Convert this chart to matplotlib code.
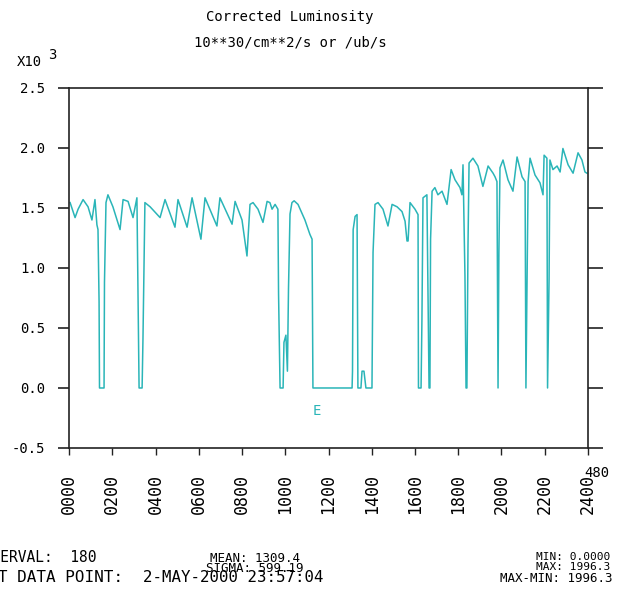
import matplotlib
matplotlib.use("Agg")
import numpy as np
import matplotlib.pyplot as plt

# time of day in hours, corrected luminosity in 10**30/cm**2/s
hours = [0.05, 0.28, 0.42, 0.65, 0.88, 1.06, 1.20, 1.29, 1.34, 1.39, 1.41, 1.62, 1.64, 1.71,
         1.80, 2.03, 2.36, 2.50, 2.73, 2.96, 3.14, 3.19, 3.24, 3.38, 3.42, 3.51,
         3.75, 4.21, 4.44, 4.90, 5.04, 5.46, 5.69, 6.10, 6.29, 6.84, 6.98, 7.54, 7.68,
         8.00, 8.23, 8.37, 8.51, 8.74, 8.97, 9.16, 9.29, 9.39, 9.53, 9.66, 9.69, 9.76,
         9.90, 9.94, 10.03, 10.10, 10.15, 10.22, 10.31, 10.41, 10.59, 10.91, 11.14, 11.24,
         11.26, 11.28, 13.09, 13.11, 13.14, 13.23, 13.32, 13.34, 13.36, 13.50, 13.55, 13.64,
         13.73, 14.01, 14.06, 14.15, 14.29, 14.52, 14.75, 14.94, 15.17, 15.40, 15.54, 15.63,
         15.68, 15.77, 16.00, 16.14, 16.16, 16.28, 16.32, 16.37, 16.55, 16.60, 16.65, 16.69,
         16.72, 16.79, 16.92, 17.06, 17.25, 17.48, 17.67, 17.85, 18.08, 18.17, 18.22, 18.31,
         18.36, 18.40, 18.45, 18.50, 18.68, 18.91, 19.14, 19.38, 19.61, 19.70, 19.79, 19.84,
         19.88, 19.93, 20.07, 20.30, 20.53, 20.72, 20.95, 21.09, 21.13, 21.18, 21.23, 21.32,
         21.55, 21.78, 21.92, 21.97, 22.10, 22.13, 22.20, 22.24, 22.38, 22.57, 22.71, 22.84,
         23.08, 23.31, 23.54, 23.72, 23.86, 23.95]
lumi = [1545, 1420, 1490, 1570, 1510, 1400, 1570, 1360, 1320, 720, 0, 0, 880, 1545,
        1610, 1510, 1320, 1570, 1555, 1420, 1585, 800, 0, 0, 410, 1545,
        1510, 1420, 1570, 1340, 1570, 1340, 1585, 1240, 1585, 1350, 1585, 1365, 1555,
        1400, 1100, 1530, 1545, 1490, 1380, 1555, 1545, 1490, 1530, 1490, 785, 0,
        0, 380, 440, 140, 830, 1450, 1545, 1560, 1530, 1400, 1280, 1240,
        600, 0, 0, 140, 1320, 1430, 1445, 720, 0, 0, 140, 140,
        0, 0, 1130, 1530, 1545, 1490, 1350, 1530, 1510, 1470, 1390, 1225,
        1225, 1545, 1490, 1445, 0, 0, 560, 1585, 1610, 800, 0, 0,
        1240, 1640, 1670, 1610, 1640, 1530, 1820, 1735, 1670, 1610, 1860, 935,
        0, 0, 1180, 1875, 1915, 1850, 1680, 1850, 1790, 1760, 1720, 0,
        1130, 1835, 1900, 1735, 1640, 1925, 1760, 1720, 0, 850, 1720, 1915,
        1775, 1710, 1610, 1940, 1915, 0, 910, 1900, 1820, 1850, 1800, 1996,
        1860, 1790, 1960, 1900, 1800, 1790]

y_ticks = [-0.5, 0.0, 0.5, 1.0, 1.5, 2.0, 2.5]
y_labels = ["-0.5", "0.0", "0.5", "1.0", "1.5", "2.0", "2.5"]
x_ticks = [0, 2, 4, 6, 8, 10, 12, 14, 16, 18, 20, 22, 24]
x_labels = ["0000", "0200", "0400", "0600", "0800", "1000", "1200",
            "1400", "1600", "1800", "2000", "2200", "2400"]

mono = "DejaVu Sans Mono"
line_col = "#2ab5b8"
frame_col = "#222222"

fig = plt.figure(figsize=(6.24, 5.91), dpi=100)
ax = fig.add_axes([0.1106, 0.2420, 0.8317, 0.6091])
ax.plot(hours, np.array(lumi) / 1000.0, color=line_col, lw=1.1)
ax.set_xlim(0, 24)
ax.set_ylim(-0.5, 2.5)
ax.set_yticks(y_ticks)
ax.set_yticklabels(y_labels, fontfamily=mono, fontsize=10)
ax.set_xticks(x_ticks)
ax.set_xticklabels(x_labels, fontfamily=mono, fontsize=12, rotation=90)
ax.tick_params(axis="y", direction="out", length=8, width=1.2, pad=9, color=frame_col)
ax.tick_params(axis="x", direction="out", length=5, width=1.0, pad=14, color=frame_col)
for s in ax.spines.values():
    s.set_color(frame_col)
    s.set_linewidth(1.2)

# right side ticks, longer and unlabeled
ax2 = ax.twinx()
ax2.set_ylim(-0.5, 2.5)
ax2.set_yticks(y_ticks)
ax2.set_yticklabels([])
ax2.tick_params(axis="y", direction="out", length=11, width=1.2, color=frame_col)
for s in ax2.spines.values():
    s.set_visible(False)

ax.text(11.47, -0.19, "E", color=line_col, fontfamily=mono, fontsize=10,
        ha="center", va="center")

W, H = 624.0, 591.0
def ftext(px, py, s, **kw):
    kw.setdefault("fontfamily", mono)
    fig.text(px / W, 1 - py / H, s, **kw)

ftext(290, 17, "Corrected Luminosity", fontsize=10, ha="center", va="center")
ftext(290, 42, "10**30/cm**2/s or /ub/s", fontsize=10, ha="center", va="center")
ftext(17, 62, "X10", fontsize=10, ha="left", va="center")
ftext(48, 55, "3", fontsize=10, ha="left", va="center")
ftext(597, 473, "480", fontsize=10, ha="center", va="center")

ftext(97, 558, "INTERVAL:  180", fontsize=10.5, ha="right", va="center")
ftext(123, 578, "LAST DATA POINT:", fontsize=11.5, ha="right", va="center")
ftext(300, 558, "MEAN: 1309.4", fontsize=9, ha="right", va="center")
ftext(304, 568, "SIGMA: 599.19", fontsize=9, ha="right", va="center")
ftext(143, 578, "2-MAY-2000 23:57:04", fontsize=11.3, ha="left", va="center")
ftext(610, 557, "MIN: 0.0000", fontsize=8, ha="right", va="center")
ftext(610, 567, "MAX: 1996.3", fontsize=8, ha="right", va="center")
ftext(612, 578, "MAX-MIN: 1996.3", fontsize=9, ha="right", va="center")

fig.savefig("out.png", dpi=100)
